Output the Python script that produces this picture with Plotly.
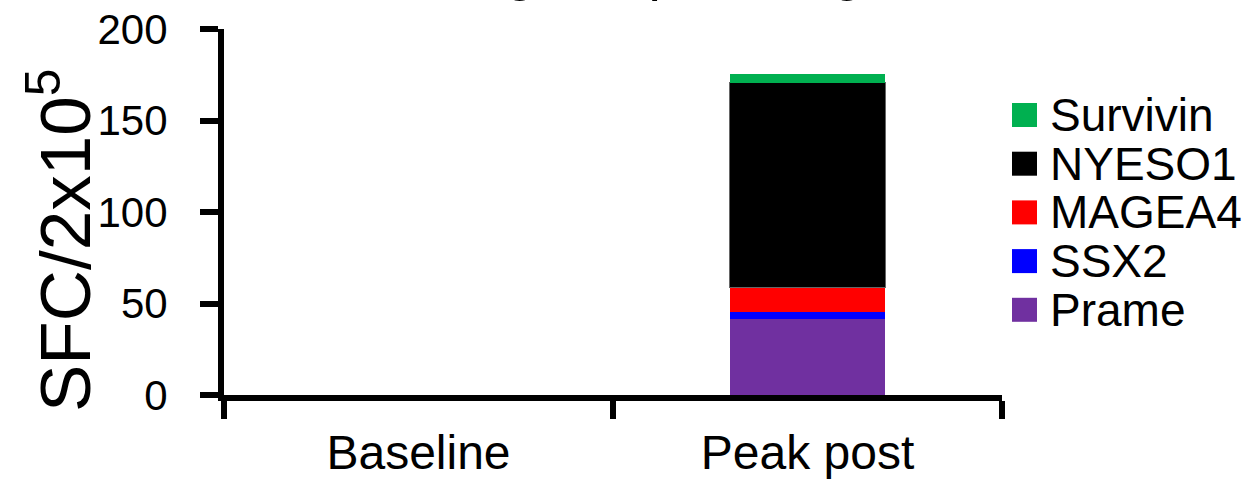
import plotly.graph_objects as go

categories = ["Baseline", "Peak post"]
# stack order, bottom to top
series_names = ["Prame", "SSX2", "MAGEA4", "NYESO1", "Survivin"]
prame = [0, 41.5]
ssx2 = [0, 3.9]
magea4 = [0, 13.1]
nyeso1 = [0, 112.0]
survivin = [0, 4.9]
series_values = [prame, ssx2, magea4, nyeso1, survivin]
series_colors = ["#7030A0", "#0000FF", "#FF0000", "#000000", "#00B050"]
y_ticks = [0, 50, 100, 150, 200]

FONT = "Liberation Sans, Arial, sans-serif"

# pixel geometry of the plot area
L, R, T, B = 224, 258, 29, 84
W, H = 1260, 479
PW, PH = W - L - R, H - T - B


def px_x(p):
    return (p - L) / PW


def px_y(p):
    return (H - B - p) / PH


fig = go.Figure()
for name, vals, col in zip(series_names, series_values, series_colors):
    fig.add_trace(go.Bar(
        x=categories, y=vals, name=name, width=0.4,
        marker=dict(color=col,
                    line=dict(width=1 if name == "NYESO1" else 0, color="#666666")),
        showlegend=False,
    ))

# custom legend (top to bottom: reverse stack order)
legend_order = list(zip(series_names, series_colors))[::-1]
y0, step = 115, 48.7
for i, (name, col) in enumerate(legend_order):
    cy = y0 + i * step
    fig.add_shape(type="rect", xref="paper", yref="paper",
                  x0=px_x(1012), x1=px_x(1037),
                  y0=px_y(cy + 12), y1=px_y(cy - 12),
                  fillcolor=col, line=dict(width=0))
    fig.add_annotation(xref="paper", yref="paper", x=px_x(1048), y=px_y(cy),
                       xanchor="left", yanchor="middle", showarrow=False,
                       height=44, valign="middle",
                       text=name, font=dict(size=46, color="black", family=FONT))

# y-axis title
fig.add_annotation(xref="paper", yref="paper", x=px_x(60), y=px_y(241),
                   xanchor="center", yanchor="middle", showarrow=False,
                   textangle=-90, text="SFC/2x10<sup>5</sup>",
                   font=dict(size=71, color="black", family=FONT))

# title (mostly above the visible canvas; only descenders show)
fig.add_annotation(xref="paper", yref="paper", x=px_x(636), y=px_y(3),
                   xanchor="center", yanchor="bottom", showarrow=False,
                   text="Antigen Spreading",
                   font=dict(size=55, color="black", family=FONT))

fig.update_layout(
    template="none",
    width=W, height=H,
    margin=dict(l=L, r=R, t=T, b=B, pad=0),
    paper_bgcolor="white", plot_bgcolor="white",
    barmode="stack", bargap=0.6,
    font=dict(family=FONT, color="black"),
    showlegend=False,
    xaxis=dict(
        type="category", range=[-0.5, 1.5], tickson="boundaries",
        showline=True, linecolor="black", linewidth=6,
        ticks="outside", ticklen=18, tickwidth=6, tickcolor="black",
        tickfont=dict(size=48, family=FONT, color="black"),
        ticklabelstandoff=10, automargin=False,
        showgrid=False, zeroline=False, fixedrange=True,
    ),
    yaxis=dict(
        range=[0, 200], tickvals=y_ticks,
        showline=True, linecolor="black", linewidth=6,
        ticks="outside", ticklen=18, tickwidth=6, tickcolor="black",
        tickfont=dict(size=42, family=FONT, color="black"),
        ticklabelstandoff=24, automargin=False,
        showgrid=False, zeroline=False, fixedrange=True,
    ),
)

fig.write_html("out.html",
               config={"displayModeBar": False},
               post_script="document.body.style.margin='0';document.body.style.overflow='hidden';")
